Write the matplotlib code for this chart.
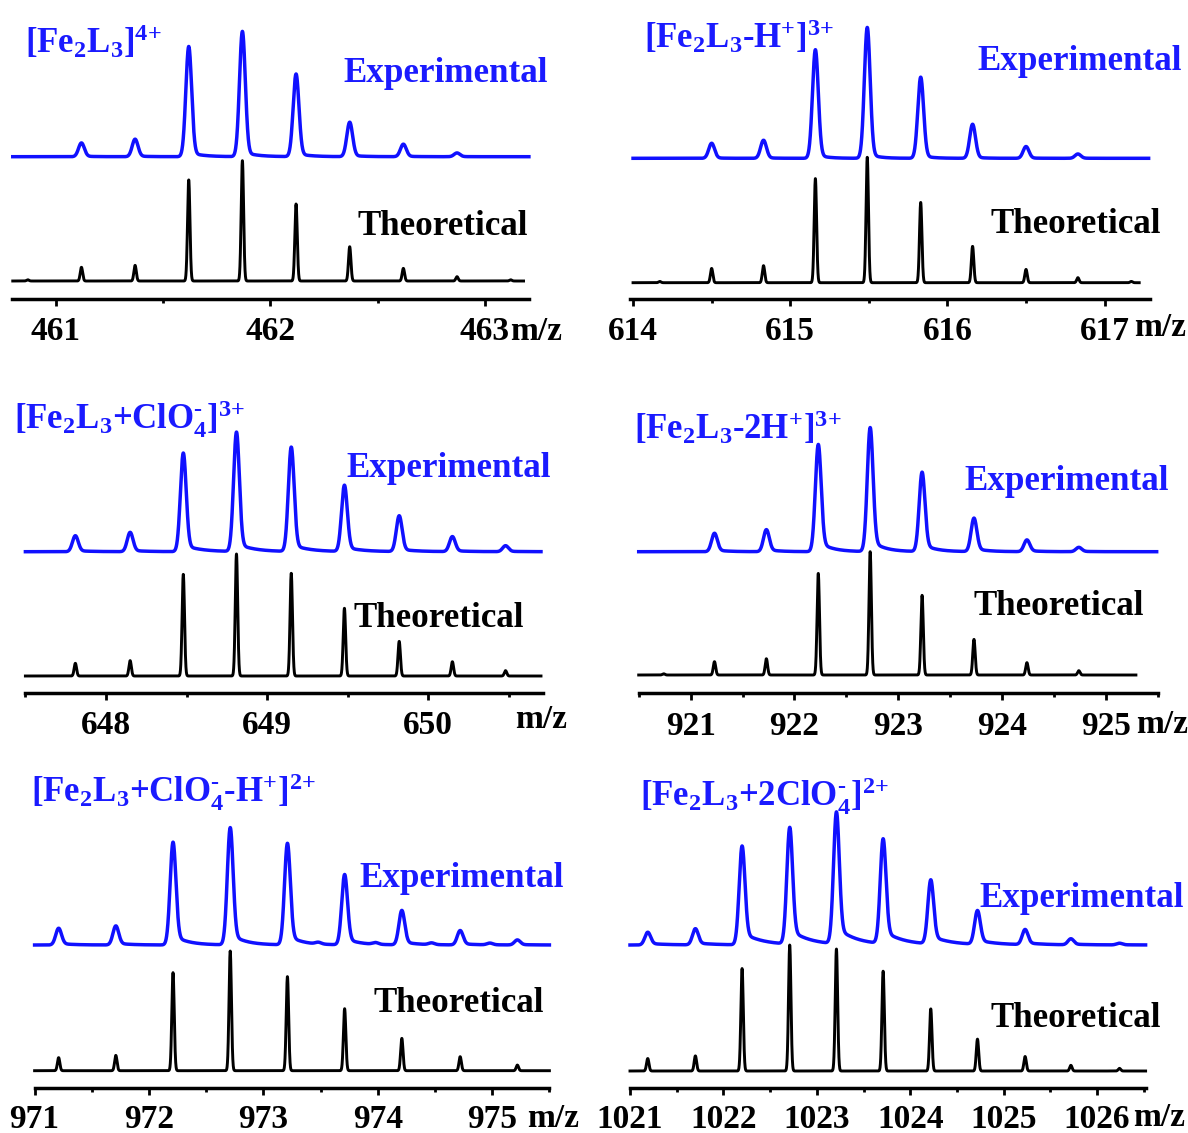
import numpy as np
import matplotlib
matplotlib.use('Agg')
import matplotlib.pyplot as plt

W, H = 1188, 1133
plt.rcParams['font.family'] = ['Liberation Serif', 'DejaVu Serif']
plt.rcParams['font.weight'] = 'bold'
plt.rcParams['mathtext.fontset'] = 'custom'
plt.rcParams['mathtext.rm'] = 'Liberation Serif:bold'
plt.rcParams['mathtext.it'] = 'Liberation Serif:bold'
plt.rcParams['mathtext.bf'] = 'Liberation Serif:bold'
plt.rcParams['mathtext.default'] = 'rm'

# ---------------- data ----------------
titles = [r'$[Fe_2L_3]^{4{+}}$',
          r'$[Fe_2L_3\text{-}H^{+}]^{3{+}}$',
          r'$[Fe_2L_3{+}ClO_4^{\text{-}}]^{3{+}}$',
          r'$[Fe_2L_3\text{-}2H^{+}]^{3{+}}$',
          r'$[Fe_2L_3{+}ClO_4^{\text{-}}\text{-}H^{+}]^{2{+}}$',
          r'$[Fe_2L_3{+}2ClO_4^{\text{-}}]^{2{+}}$']

major_ticks = [[461, 462, 463],
               [614, 615, 616, 617],
               [648, 649, 650],
               [921, 922, 923, 924, 925],
               [971, 972, 973, 974, 975],
               [1021, 1022, 1023, 1024, 1025, 1026]]
minor_ticks = [[461.5, 462.5],
               [614.5, 615.5, 616.5],
               [647.5, 648.5, 649.5, 650.5],
               [920.5, 921.5, 922.5, 923.5, 924.5, 925.5],
               [971.5, 972.5, 973.5, 974.5, 975.5],
               [1021.5, 1022.5, 1023.5, 1024.5, 1025.5, 1026.5]]
xlims = [(460.796, 463.205), (613.98, 617.29), (647.5, 650.71),
         (920.5, 925.5), (971.0, 975.5), (1021.0, 1026.52)]

# theoretical isotope peaks (m/z, relative intensity %)
theo_mz = [[460.87, 461.12, 461.37, 461.62, 461.87, 462.12, 462.37, 462.62, 462.87, 463.12],
           [614.17, 614.50, 614.83, 615.16, 615.49, 615.83, 616.16, 616.50, 616.83, 617.17],
           [647.81, 648.15, 648.48, 648.81, 649.15, 649.48, 649.82, 650.15, 650.48],
           [920.74, 921.23, 921.73, 922.23, 922.73, 923.23, 923.73, 924.24, 924.74],
           [971.21, 971.71, 972.21, 972.71, 973.21, 973.71, 974.21, 974.72, 975.22],
           [1021.19, 1021.70, 1022.20, 1022.71, 1023.21, 1023.71, 1024.22, 1024.72, 1025.23, 1025.72, 1026.24]]
theo_int = [[1, 11.4, 13, 84, 100, 64, 28.5, 10.5, 3.6, 1],
            [1, 11.4, 13.6, 83, 100, 64, 29, 10.6, 4, 1],
            [10.4, 12.6, 83.3, 100, 84.2, 55.5, 28.4, 11.7, 4.4],
            [1, 10.8, 13.2, 82.4, 100, 64.6, 28.9, 10, 3.5],
            [10.9, 12.8, 81.9, 100, 78.6, 51.8, 27, 11.7, 4.7],
            [9.9, 12, 81.3, 100, 96.8, 79.2, 49.3, 25.3, 11.5, 4.5, 2.1]]

# experimental peaks (m/z, relative intensity %)
exp_mz = [[461.12, 461.37, 461.62, 461.87, 462.12, 462.37, 462.62, 462.87],
          [614.50, 614.83, 615.16, 615.49, 615.83, 616.16, 616.50, 616.83],
          [647.81, 648.15, 648.48, 648.81, 649.15, 649.48, 649.82, 650.15, 650.48],
          [921.23, 921.73, 922.23, 922.73, 923.23, 923.73, 924.24, 924.74],
          [971.21, 971.71, 972.21, 972.71, 973.21, 973.48, 973.71, 973.98, 974.21, 974.47, 974.72, 974.98, 975.22],
          [1021.19, 1021.70, 1022.20, 1022.71, 1023.21, 1023.71, 1024.22, 1024.72, 1025.23, 1025.72, 1026.24]]
exp_int = [[11, 14, 88, 100, 66, 27.5, 10, 3],
           [11.5, 13.8, 83, 100, 62, 26, 9, 3.3],
           [13.4, 16.2, 82.6, 100, 87.4, 55.5, 30, 12.6, 5],
           [14.9, 17.8, 86.5, 100, 64, 27, 9.5, 3.5],
           [14.3, 16.3, 87.7, 100, 86.6, 1.5, 60, 1.5, 29.4, 1.5, 12.3, 1.5, 4.3],
           [9.7, 12.3, 75, 88.5, 100, 79.5, 48.6, 25.6, 11.5, 4.6, 1.3]]

# ---------------- layout / style ----------------
# panel rect in pixels: left, right, axis line y
rects = [(11.9, 528.9, 299), (629.9, 1150.2, 299), (25.4, 542.6, 693),
         (638.7, 1157.7, 693.3), (34.6, 549.4, 1088.3), (630.0, 1145.6, 1087.7)]
theo_range = [(460.80, 463.18), (614.0, 617.22), (647.5, 650.70),
              (920.5, 925.29), (971.0, 975.5), (1021.0, 1026.52)]
exp_range = [(460.80, 463.205), (614.0, 617.28), (647.5, 650.70),
             (920.5, 925.49), (971.0, 975.5), (1021.0, 1026.52)]
# baseline offsets and scale (pixels above axis line)
theo_base = [18, 16.3, 17, 18.3, 17.6, 16.7]
theo_scale = [120.3, 125.4, 122, 123.3, 119.7, 126]
exp_base = [142.3, 140.7, 141.3, 141.6, 143.3, 142.7]
exp_scale = [125, 130.6, 119, 123.4, 116.7, 131]
tails = [(0.04, 0.06), (0.04, 0.06), (0.07, 0.10), (0.10, 0.12), (0.10, 0.12), (0.13, 0.20)]
tick_pad = [7.5, 7.5, 7.5, 7.5, 6.5, 6.5]

title_pos = [(25, 53), (644.5, 48.3), (14.3, 430), (634, 439.3), (31.4, 802.7), (639.6, 806.7)]
expl_pos = [(343, 82), (977, 70), (346, 476.7), (964, 490), (359, 886.7), (979, 906.7)]
theol_pos = [(357, 235), (990.6, 233.3), (353.6, 626.7), (973.6, 615), (373, 1011.7), (990.6, 1026.7)]
mz_pos = [(510, 340), (1134, 336), (515, 728), (1136, 733), (527, 1127), (1133, 1126)]

BLUE = '#1010ff'
TBLUE = '#1a1aff'
FS_TXT = 25.2
FS_TTL = 25.0
FS_TICK = 24

fig = plt.figure(figsize=(W / 100, H / 100), dpi=100)


def fx(px):
    return px / W


def fy(py):
    return 1 - py / H


for i in range(6):
    left, right, ay = rects[i]
    ax = fig.add_axes([fx(left), fy(ay), (right - left) / W, 295 / H])
    ax.set_xlim(*xlims[i])
    ax.set_ylim(0, 295)
    ax.patch.set_alpha(0)
    for s in ['top', 'left', 'right']:
        ax.spines[s].set_visible(False)
    ax.spines['bottom'].set_linewidth(2.5)
    ax.set_yticks([])
    ax.set_xticks(major_ticks[i])
    ax.set_xticklabels([str(t) for t in major_ticks[i]])
    ax.set_xticks(minor_ticks[i], minor=True)
    ax.tick_params(axis='x', which='major', direction='out', length=5, width=2,
                   pad=tick_pad[i], labelsize=FS_TICK)
    ax.tick_params(axis='x', which='minor', direction='out', length=3, width=2)

    ppu = (right - left) / (xlims[i][1] - xlims[i][0])

    # theoretical stick spectrum
    xt = np.linspace(theo_range[i][0], theo_range[i][1], 6000)
    sig_t = 1.2 / ppu
    yt = np.zeros_like(xt)
    for m, a in zip(theo_mz[i], theo_int[i]):
        yt += a / 100.0 * np.exp(-0.5 * ((xt - m) / sig_t) ** 2)
    ax.plot(xt, theo_base[i] + theo_scale[i] * yt, color='black', lw=2.1,
            clip_on=False)

    # experimental profile
    xe = np.linspace(exp_range[i][0], exp_range[i][1], 6000)
    sig_e = 2.9 / ppu
    frac, tau = tails[i]
    ye = np.zeros_like(xe)
    for m, a in zip(exp_mz[i], exp_int[i]):
        d = xe - m
        core = np.exp(-0.5 * (d / sig_e) ** 2)
        step = 1.0 / (1.0 + np.exp(-(d - 1.5 * sig_e) / (0.5 * sig_e)))
        tail = frac * np.exp(-np.clip(d, 0, None) / tau) * step
        ye += a / 100.0 * (core + tail)
    ax.plot(xe, exp_base[i] + exp_scale[i] * ye, color=BLUE, lw=2.5, clip_on=False)

    fig.text(fx(title_pos[i][0]), fy(title_pos[i][1]), titles[i], color=TBLUE,
             fontsize=FS_TTL, ha='left', va='baseline')
    fig.text(fx(expl_pos[i][0]), fy(expl_pos[i][1]), 'Experimental', color=TBLUE,
             fontsize=FS_TXT, fontweight='bold', ha='left', va='baseline')
    fig.text(fx(theol_pos[i][0]), fy(theol_pos[i][1]), 'Theoretical', color='black',
             fontsize=FS_TXT, fontweight='bold', ha='left', va='baseline')
    fig.text(fx(mz_pos[i][0]), fy(mz_pos[i][1]), 'm/z', color='black',
             fontsize=FS_TICK, fontweight='bold', ha='left', va='baseline')

fig.savefig('out.png', dpi=100)
